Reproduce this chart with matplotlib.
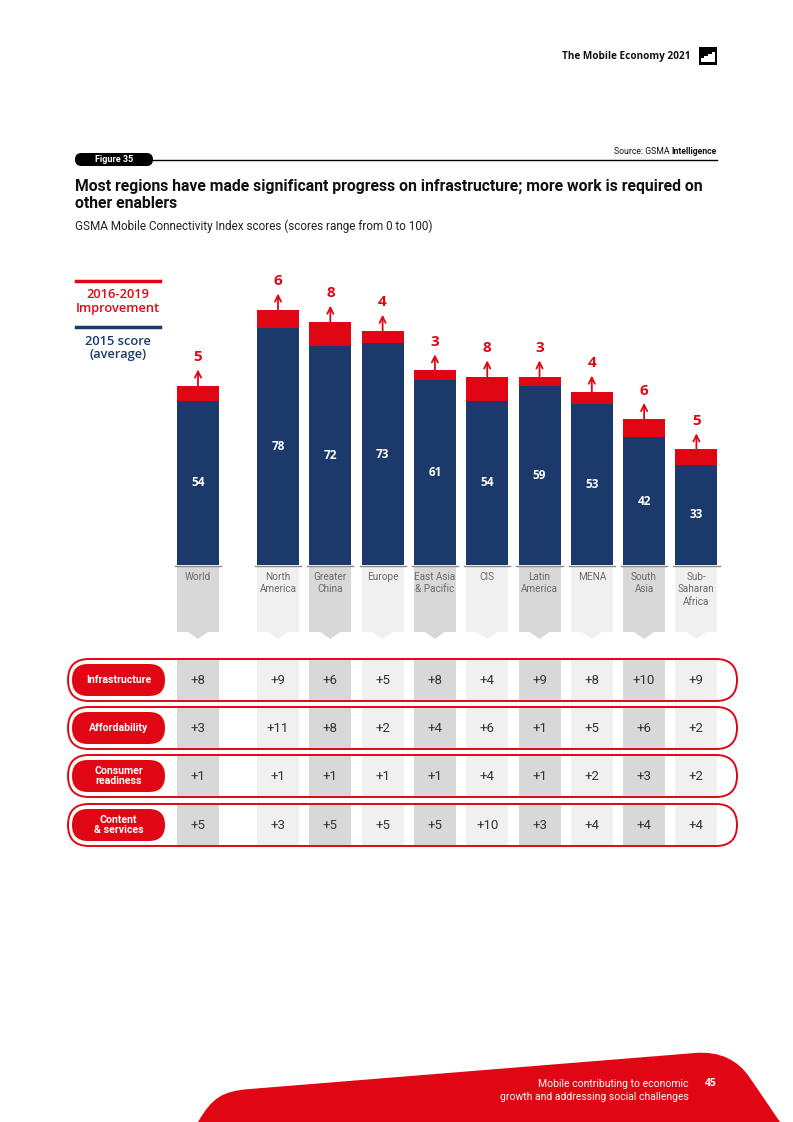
import matplotlib
matplotlib.use("Agg")
import matplotlib.pyplot as plt
from matplotlib.patches import Rectangle, FancyBboxPatch, Polygon, PathPatch
from matplotlib.path import Path
from matplotlib.transforms import blended_transform_factory

# ---------------- data ----------------
regions = ["World", "North\nAmerica", "Greater\nChina", "Europe", "East Asia\n& Pacific",
           "CIS", "Latin\nAmerica", "MENA", "South\nAsia", "Sub-\nSaharan\nAfrica"]
score_2015 = [54, 78, 72, 73, 61, 54, 59, 53, 42, 33]
improvement = [5, 6, 8, 4, 3, 8, 3, 4, 6, 5]
enablers = ["Infrastructure", "Affordability", "Consumer\nreadiness", "Content\n& services"]
infrastructure = [8, 9, 6, 5, 8, 4, 9, 8, 10, 9]
affordability = [3, 11, 8, 2, 4, 6, 1, 5, 6, 2]
consumer_readiness = [1, 1, 1, 1, 1, 4, 1, 2, 3, 2]
content_services = [5, 3, 5, 5, 5, 10, 3, 4, 4, 4]
enabler_values = [infrastructure, affordability, consumer_readiness, content_services]

# ---------------- style ----------------
RED = "#e10613"
NAVY = "#1b3a6b"
DARKG = "#d9d8d9"
LIGHTG = "#f0f0f0"
NARROW = ["Roboto", "DejaVu Sans"]
WIDE = ["Open Sans", "DejaVu Sans"]

W, H = 793, 1122
fig = plt.figure(figsize=(W / 100, H / 100), dpi=100)
fig.patch.set_facecolor("white")

# overlay axes in pixel coordinates
ax0 = fig.add_axes([0, 0, 1, 1])
ax0.set_xlim(0, W)
ax0.set_ylim(H, 0)
ax0.axis("off")

# bar axes
bl, bw = 150, 590
base_px, top_px = 565, 565 - 304
axb = fig.add_axes([bl / W, (H - base_px) / H, bw / W, (base_px - top_px) / H])
axb.patch.set_alpha(0)
axb.axis("off")
spacing = 52.3
x0px = 198
pos = [0.0] + [1.53 + i for i in range(len(regions) - 1)]
axb.set_xlim(-(x0px - bl) / spacing, (bl + bw - x0px) / spacing)
axb.set_ylim(0, 100)
bwid = 42 / spacing

axb.bar(pos, score_2015, width=bwid, color=NAVY, zorder=3)
axb.bar(pos, improvement, bottom=score_2015, width=bwid, color=RED, zorder=3)

for x, s, imp in zip(pos, score_2015, improvement):
    tot = s + imp
    axb.text(x, s / 2, str(s), ha="center", va="center", color="white",
             fontsize=8.5, fontweight="bold", family=WIDE, zorder=5)
    axb.annotate("", xy=(x, tot + 5.3), xytext=(x, tot),
                 arrowprops=dict(arrowstyle="->", color=RED, lw=1.3,
                                 shrinkA=0, shrinkB=0, mutation_scale=11),
                 zorder=5, annotation_clip=False)
    axb.annotate(str(imp), xy=(x, tot), xytext=(0, 20.5), textcoords="offset points",
                 ha="center", va="center", color=RED, fontsize=11,
                 fontweight="bold", family=WIDE, annotation_clip=False)

# blended transform: x from bar axes data, y from pixel overlay
bt = blended_transform_factory(axb.transData, ax0.transData)

for i, (x, name) in enumerate(zip(pos, regions)):
    col = DARKG if i % 2 == 0 else LIGHTG
    ax0.add_patch(Rectangle((x - bwid / 2, 566), bwid, 66, transform=bt,
                            facecolor=col, edgecolor="none", zorder=1, clip_on=False))
    ax0.add_patch(Polygon([(x - 0.19, 632), (x + 0.19, 632), (x, 639)], closed=True,
                          transform=bt, facecolor=col, edgecolor="none", zorder=1,
                          clip_on=False))
    ax0.plot([x - bwid / 2 - 0.04, x + bwid / 2 + 0.04], [566, 566], transform=bt,
             color="#8a8a8a", lw=1, zorder=2, clip_on=False)
    ax0.text(x, 572, name, transform=bt, ha="center", va="top", color="#6a6a6a",
             fontsize=7.2, family=NARROW, linespacing=1.3, zorder=3)

# ---------------- table ----------------
row_c = [680, 728, 776, 825]
ph = 42
for r, (lab, vals, c) in enumerate(zip(enablers, enabler_values, row_c)):
    for i, (x, v) in enumerate(zip(pos, vals)):
        col = DARKG if i % 2 == 0 else LIGHTG
        ax0.add_patch(Rectangle((x - bwid / 2, c - ph / 2 + 1), bwid, ph - 2, transform=bt,
                                facecolor=col, edgecolor="none", zorder=1, clip_on=False))
        ax0.text(x, c, "+%d" % v, transform=bt, ha="center", va="center",
                 color="#333333", fontsize=9.5, family=NARROW, zorder=4)
    ax0.add_patch(FancyBboxPatch((68, c - ph / 2), 669, ph,
                                 boxstyle="round,pad=0,rounding_size=21",
                                 facecolor="none", edgecolor=RED, lw=1.4, zorder=3))
    ax0.add_patch(FancyBboxPatch((72, c - 16), 93, 32,
                                 boxstyle="round,pad=0,rounding_size=16",
                                 facecolor=RED, edgecolor="none", zorder=3))
    ax0.text(118.5, c, lab, ha="center", va="center", color="white", fontsize=7.6,
             fontweight="bold", family=NARROW, linespacing=1.0, zorder=4)

# ---------------- legend ----------------
ax0.plot([76, 160], [281, 281], color=RED, lw=2.5)
ax0.text(118, 301.5, "2016-2019\nImprovement", ha="center", va="center", color=RED,
         fontsize=9.3, fontweight="semibold", family=WIDE, linespacing=1.05)
ax0.plot([76, 160], [327, 327], color=NAVY, lw=2.5)
ax0.text(118, 348, "2015 score\n(average)", ha="center", va="center", color=NAVY,
         fontsize=9.3, fontweight="semibold", family=WIDE, linespacing=1.05)

# ---------------- header ----------------
ax0.text(690, 56, "The Mobile Economy 2021", ha="right", va="center", color="#111111",
         fontsize=7.2, fontweight="bold", family=WIDE)
ax0.add_patch(Rectangle((699, 47), 18, 18, facecolor="black", edgecolor="none"))
ax0.add_patch(Polygon([(701, 62), (701, 58), (704, 58), (704, 56), (708, 56), (708, 54),
                       (712, 54), (712, 52), (715, 52), (715, 62)], closed=True,
                      facecolor="white", edgecolor="none"))

# source / figure label
t_int = ax0.text(717, 151, "Intelligence", ha="right", va="center", color="#111111",
                 fontsize=6.2, fontweight="bold", family=NARROW)
fig.canvas.draw()
rend = fig.canvas.get_renderer()
bb = t_int.get_window_extent(rend)
left_px = bb.x0
ax0.text(left_px - 2.5, 151, "Source: GSMA", ha="right", va="center", color="#111111",
         fontsize=6.2, family=NARROW)
ax0.plot([150, 717], [159.5, 159.5], color="black", lw=1)
ax0.add_patch(FancyBboxPatch((75, 153), 78, 13, boxstyle="round,pad=0,rounding_size=6.5",
                             facecolor="black", edgecolor="none"))
ax0.text(114, 159.5, "Figure 35", ha="center", va="center", color="white",
         fontsize=6.5, fontweight="bold", family=NARROW)

# title
ax0.text(75, 186, "Most regions have made significant progress on infrastructure; more work is required on",
         ha="left", va="center", color="#111111", fontsize=11.3, fontweight="bold", family=NARROW)
ax0.text(75, 203, "other enablers", ha="left", va="center", color="#111111",
         fontsize=11.3, fontweight="bold", family=NARROW)
ax0.text(75, 226, "GSMA Mobile Connectivity Index scores (scores range from 0 to 100)",
         ha="left", va="center", color="#222222", fontsize=8.5, family=NARROW)

# ---------------- footer ----------------
verts = [(198, 1122), (212, 1098), (222, 1091), (250, 1089),
         (695, 1053),
         (720, 1051), (738, 1060), (750, 1078),
         (780, 1122), (198, 1122)]
codes = [Path.MOVETO, Path.CURVE4, Path.CURVE4, Path.CURVE4,
         Path.LINETO,
         Path.CURVE4, Path.CURVE4, Path.CURVE4,
         Path.LINETO, Path.CLOSEPOLY]
ax0.add_patch(PathPatch(Path(verts, codes), facecolor=RED, edgecolor="none"))
ax0.text(689, 1084, "Mobile contributing to economic", ha="right", va="center",
         color="white", fontsize=7.5, family=NARROW)
ax0.text(689, 1097, "growth and addressing social challenges", ha="right", va="center",
         color="white", fontsize=7.5, family=NARROW)
ax0.text(705, 1084, "45", ha="left", va="center", color="white", fontsize=7.5,
         fontweight="bold", family=WIDE)

fig.savefig("out.png", dpi=100, facecolor="white")
